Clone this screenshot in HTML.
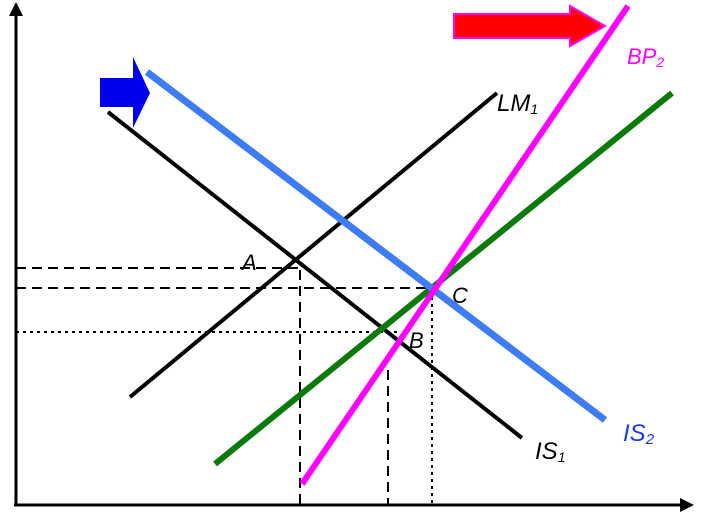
<!DOCTYPE html>
<html><head><meta charset="utf-8"><style>
html,body{margin:0;padding:0;background:#fff;}
svg{display:block}
text{font-family:"Liberation Sans",sans-serif;font-style:italic}
</style></head><body>
<svg width="722" height="531" viewBox="0 0 722 531" xmlns="http://www.w3.org/2000/svg">
<line x1="16" y1="506" x2="16" y2="12" stroke="#000" stroke-width="3"/>
<polygon points="16,2 9,16 23,16" fill="#000"/>
<line x1="14" y1="505" x2="682" y2="505" stroke="#000" stroke-width="3"/>
<polygon points="694,505 680,498 680,512" fill="#000"/>
<line x1="16" y1="268" x2="298" y2="268" stroke="#000" stroke-width="2" stroke-dasharray="10,6"/>
<line x1="16" y1="288" x2="432" y2="288" stroke="#000" stroke-width="2" stroke-dasharray="10,6"/>
<line x1="16" y1="332" x2="400" y2="332" stroke="#000" stroke-width="2" stroke-dasharray="3,4"/>
<line x1="300" y1="270" x2="300" y2="505" stroke="#000" stroke-width="2" stroke-dasharray="10,6"/>
<line x1="388" y1="370" x2="388" y2="505" stroke="#000" stroke-width="2" stroke-dasharray="10,6"/>
<line x1="432" y1="290" x2="432" y2="505" stroke="#000" stroke-width="2" stroke-dasharray="3,4"/>
<line x1="108" y1="112" x2="522" y2="438" stroke="#000" stroke-width="4"/>
<line x1="130" y1="397" x2="497" y2="93" stroke="#000" stroke-width="4"/>
<line x1="215" y1="464" x2="672" y2="93" stroke="#0a7a0a" stroke-width="6"/>
<line x1="147" y1="72" x2="605" y2="420" stroke="#3d7cf2" stroke-width="7"/>
<line x1="302" y1="484" x2="628" y2="6" stroke="#f0f" stroke-width="6"/>
<polygon points="454,14 570,14 570,6 605,26 570,46 570,38 454,38" fill="#f00" stroke="#f0f" stroke-width="2"/>
<polygon points="100,78 133,78 133,57 150,93 133,128 133,107 100,107" fill="#0000f0"/>
<text x="242" y="270" font-size="22">A</text>
<text x="452" y="303" font-size="22">C</text>
<text x="409" y="348" font-size="22">B</text>
<text x="497" y="111" font-size="24">LM<tspan font-size="14" dy="3">1</tspan></text>
<text x="627" y="64" font-size="22" fill="#f0f">BP<tspan font-size="14" dy="3">2</tspan></text>
<text x="623" y="441" font-size="24" fill="#1a3cf0">IS<tspan font-size="15" dy="3">2</tspan></text>
<text x="535" y="459" font-size="24">IS<tspan font-size="14" dy="3">1</tspan></text>
</svg>
</body></html>
